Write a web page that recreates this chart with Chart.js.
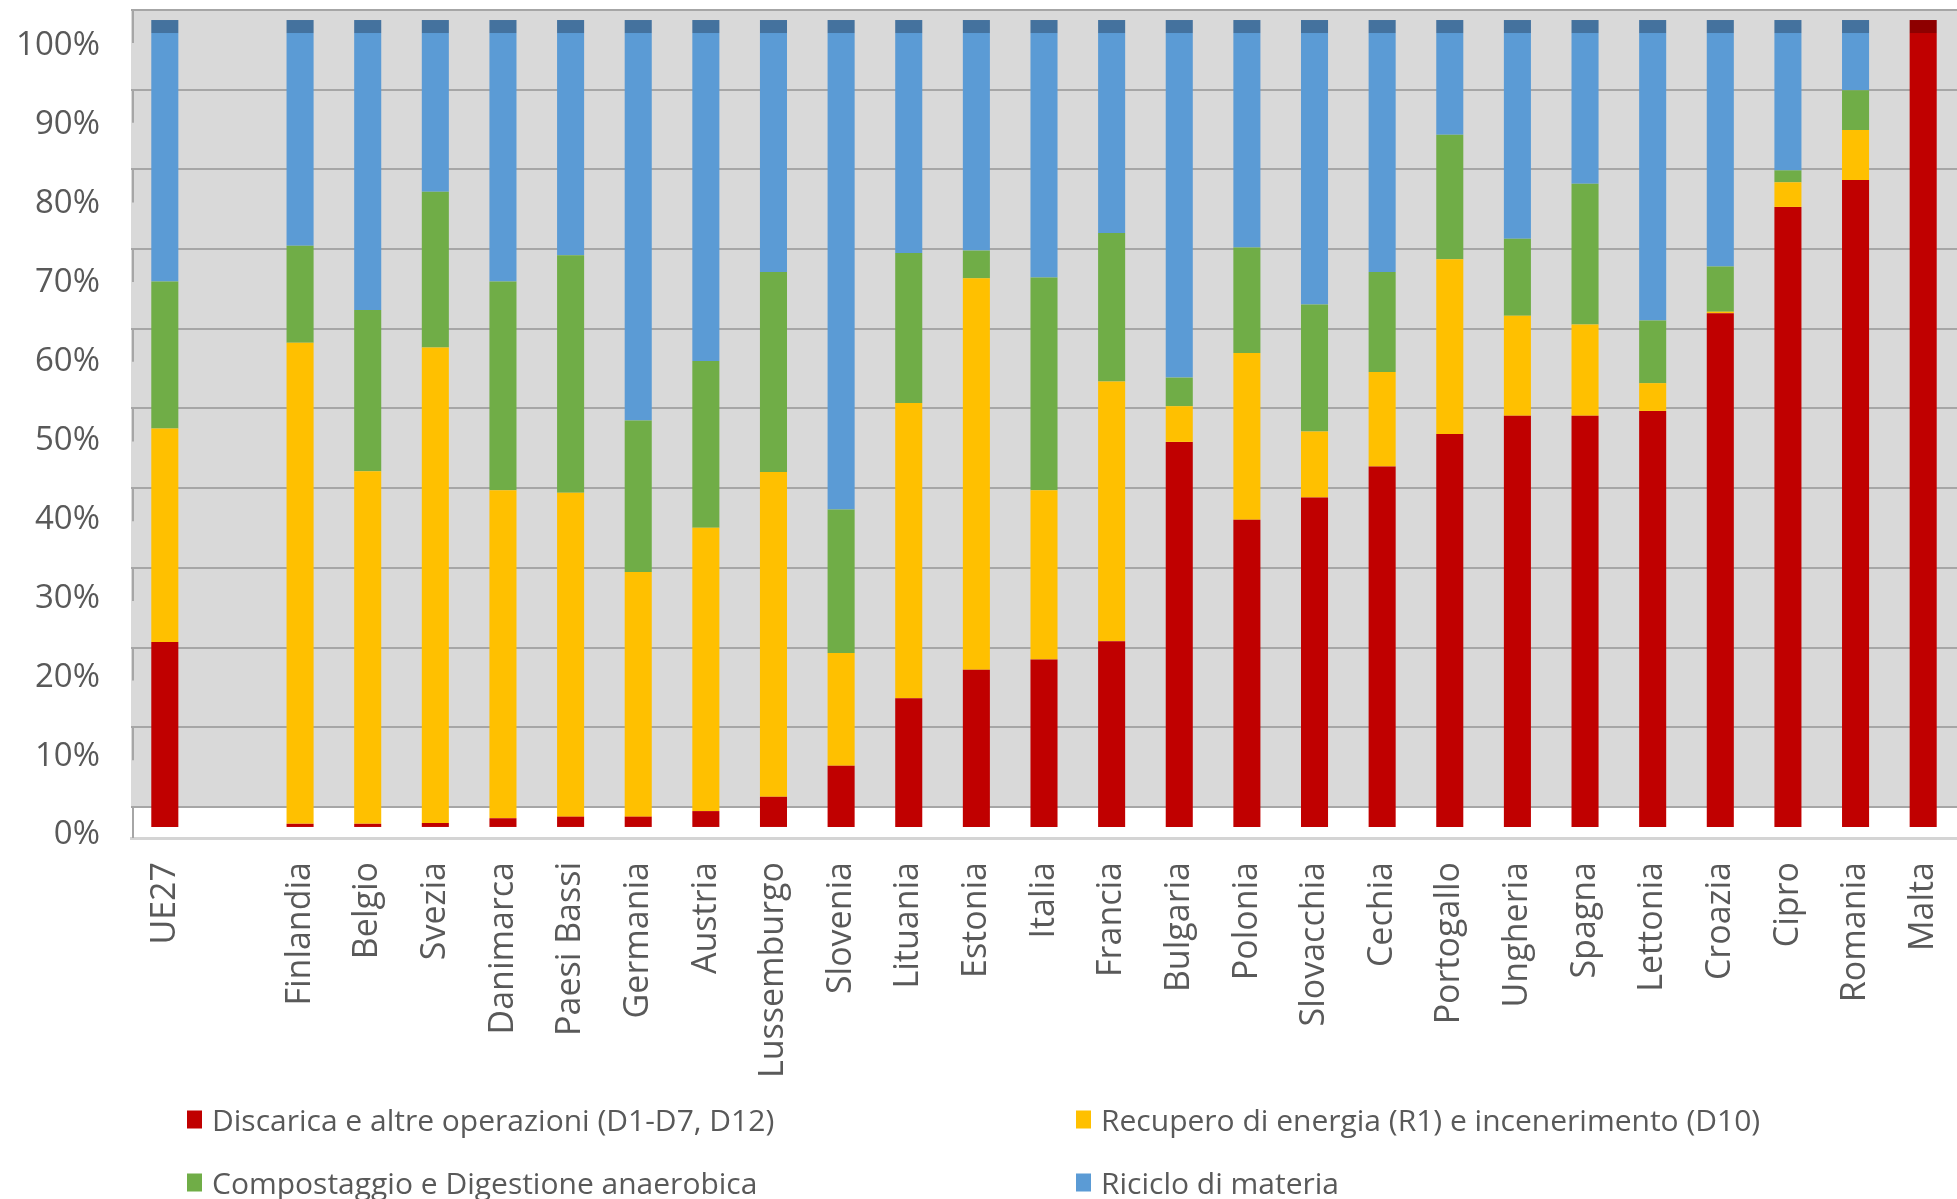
<!DOCTYPE html>
<html>
<head>
<meta charset="utf-8">
<script src="https://cdn.jsdelivr.net/npm/chart.js@4.4.1/dist/chart.umd.min.js"></script>
<style>
  body { margin: 0; background: #fff; }
  #wrap { position: relative; width: 1957px; height: 1199px; overflow: hidden; }
  #chart { position: absolute; left: 0; top: 0; }
  .leg { position: absolute; display: flex; align-items: center; font-family: "Open Sans", sans-serif;
         font-size: 30px; color: #595959; white-space: nowrap; transform: translateY(-50%); }
  .leg span.box { display: inline-block; width: 15px; height: 18px; margin-right: 10px; }
</style>
</head>
<body>
<div id="wrap">
  <canvas id="chart" width="1957" height="1199"></canvas>
</div>
<script>
// categorie (la seconda è lo spazio vuoto dopo UE27)
const paesi = ['UE27', '', 'Finlandia', 'Belgio', 'Svezia', 'Danimarca', 'Paesi Bassi', 'Germania', 'Austria',
  'Lussemburgo', 'Slovenia', 'Lituania', 'Estonia', 'Italia', 'Francia', 'Bulgaria', 'Polonia', 'Slovacchia',
  'Cechia', 'Portogallo', 'Ungheria', 'Spagna', 'Lettonia', 'Croazia', 'Cipro', 'Romania', 'Malta'];

const discarica = [23.3, null, 0.4, 0.4, 0.5, 1.1, 1.3, 1.3, 2.0, 3.8, 7.7, 16.2, 19.8, 21.1, 23.4, 48.5, 38.7, 41.5,
  45.4, 49.5, 51.8, 51.8, 52.4, 64.7, 78.1, 81.5, 100];
const recupero = [26.9, null, 60.6, 44.4, 59.9, 41.3, 40.8, 30.8, 35.7, 40.9, 14.2, 37.2, 49.3, 21.3, 32.7, 4.5, 21.0, 8.3,
  11.9, 22.0, 12.6, 11.5, 3.5, 0.2, 3.1, 6.3, 0];
const compostaggio = [18.5, null, 12.2, 20.3, 19.6, 26.3, 29.9, 19.1, 21.0, 25.2, 18.1, 18.9, 3.5, 26.8, 18.7, 3.6, 13.3, 16.0,
  12.6, 15.7, 9.7, 17.7, 7.9, 5.7, 1.5, 5.0, 0];
const riciclo = [31.3, null, 26.8, 34.9, 20.0, 31.3, 28.0, 48.8, 41.3, 30.1, 60.0, 27.7, 27.4, 30.8, 25.2, 43.4, 27.0, 34.2,
  30.1, 12.8, 25.9, 19.0, 36.2, 29.4, 17.3, 7.2, 0];

const yTicks = [0, 10, 20, 30, 40, 50, 60, 70, 80, 90, 100];

const serie = [
  { label: 'Discarica e altre operazioni (D1-D7, D12)', data: discarica, color: '#c00000', top: '#8e0000' },
  { label: 'Recupero di energia (R1) e incenerimento (D10)', data: recupero, color: '#ffc000', top: '#c89600' },
  { label: 'Compostaggio e Digestione anaerobica', data: compostaggio, color: '#70ad47', top: '#527f34' },
  { label: 'Riciclo di materia', data: riciclo, color: '#5b9bd5', top: '#44729e' },
];

const fixedTicks = (scale) => { scale.ticks = yTicks.map(v => ({ value: v })); };

// parete di fondo grigia, pavimento bianco e bordo sinistro a segmenti
const wall = {
  id: 'wall',
  beforeDraw(chart) {
    const { ctx, chartArea: a } = chart;
    const g = chart.scales.yGrid;
    ctx.save();
    ctx.fillStyle = '#d9d9d9';
    ctx.fillRect(a.left, a.top, a.right - a.left, g.getPixelForValue(0) - a.top);
    ctx.restore();
  },
  beforeDatasetsDraw(chart) {
    const { ctx, chartArea: a } = chart;
    const g = chart.scales.yGrid;
    ctx.save();
    ctx.strokeStyle = '#a6a6a6';
    ctx.lineWidth = 2;
    yTicks.forEach(v => {
      const y = g.getPixelForValue(v);
      ctx.beginPath();
      ctx.moveTo(a.left + 2, y);
      ctx.lineTo(a.left + 2, Math.min(y + 33, a.bottom));
      ctx.stroke();
    });
    ctx.restore();
  },
  afterDatasetsDraw(chart) {
    // faccia superiore scura delle colonne
    const { ctx } = chart;
    ctx.save();
    paesi.forEach((p, i) => {
      for (let d = serie.length - 1; d >= 0; d--) {
        const v = chart.data.datasets[d].data[i];
        if (v) {
          const el = chart.getDatasetMeta(d).data[i];
          ctx.fillStyle = serie[d].top;
          ctx.fillRect(el.x - el.width / 2, el.y - 13, el.width, 13);
          break;
        }
      }
    });
    ctx.restore();
  }
};

const noPad = (s) => { s.paddingLeft = 0; s.paddingRight = 0; s.paddingTop = 0; s.paddingBottom = 0; };

const chart = new Chart(document.getElementById('chart'), {
  type: 'bar',
  data: {
    labels: paesi,
    datasets: serie.map(s => ({
      label: s.label,
      data: s.data,
      backgroundColor: s.color,
      borderWidth: 0,
      barPercentage: 0.4,
      categoryPercentage: 1.0,
    })),
  },
  options: {
    responsive: false,
    animation: false,
    devicePixelRatio: 1,
    layout: { padding: { top: 10, left: 0, right: 0, bottom: 0 } },
    plugins: { legend: { display: false }, tooltip: { enabled: false } },
    scales: {
      x: {
        stacked: true,
        grid: { display: false, drawTicks: false },
        border: { display: true, color: '#d4d4d4', width: 3 },
        ticks: {
          autoSkip: false, maxRotation: 90, minRotation: 90, padding: 24,
          color: '#595959', font: { family: 'Open Sans', size: 34 },
        },
        afterFit: (s) => { s.height = 1199 - 838; noPad(s); },
      },
      y: {
        stacked: true, display: false,
        min: -1.39, max: 102.9,
      },
      yGrid: {
        position: 'left',
        min: -3.89, max: 100,
        afterBuildTicks: fixedTicks,
        grid: { color: '#a6a6a6', lineWidth: 2, drawTicks: false },
        border: { display: false },
        ticks: { display: false },
        afterFit: (s) => { s.width = 0; noPad(s); },
      },
      yLab: {
        position: 'left',
        min: -0.38, max: 104.56,
        afterBuildTicks: fixedTicks,
        grid: { display: false, drawTicks: false },
        border: { display: false },
        ticks: {
          padding: 31, color: '#595959', font: { family: 'Open Sans', size: 33 },
          callback: (v) => v + '%',
        },
        afterFit: (s) => { s.width = 131; noPad(s); },
      },
    },
  },
  plugins: [wall],
});

// legenda su due colonne
const legX = [187, 1076];
const legY = [1119, 1182];
const wrap = document.getElementById('wrap');
chart.data.datasets.forEach((ds, i) => {
  const div = document.createElement('div');
  div.className = 'leg';
  div.style.left = legX[i % 2] + 'px';
  div.style.top = legY[Math.floor(i / 2)] + 'px';
  div.innerHTML = '<span class="box" style="background:' + ds.backgroundColor + '"></span>' + ds.label;
  wrap.appendChild(div);
});
</script>
</body>
</html>
